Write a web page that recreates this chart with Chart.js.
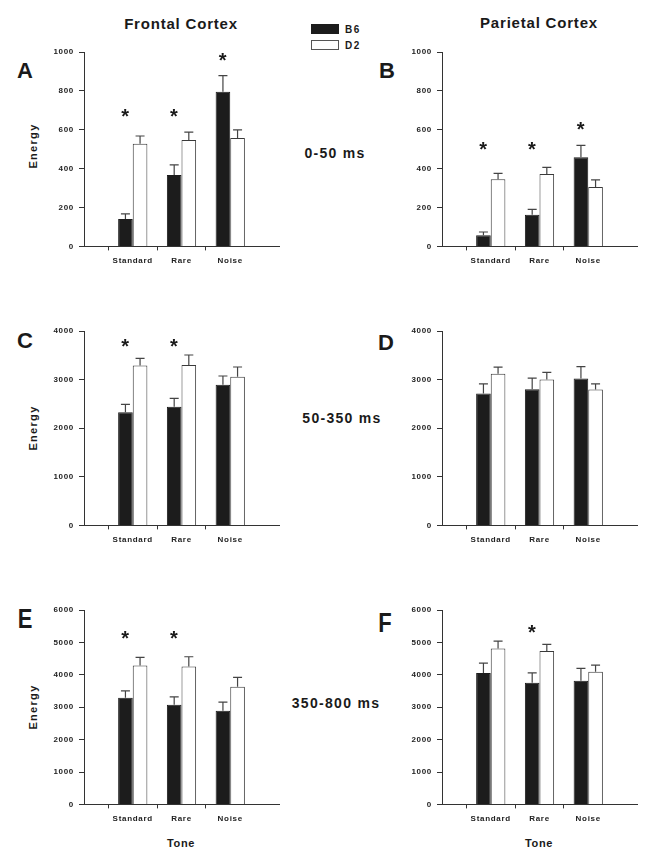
<!DOCTYPE html>
<html>
<head>
<meta charset="utf-8">
<script src="https://cdn.jsdelivr.net/npm/chart.js@4.4.1/dist/chart.umd.min.js"></script>
<style>
body{margin:0;background:#fff;font-family:"Liberation Sans",Arial,sans-serif;}
#fig{position:relative;width:649px;height:855px;overflow:hidden;}
canvas{position:absolute;}
.t{position:absolute;transform:translate(-50%,-50%);line-height:1;font-weight:bold;color:#1a1a1a;white-space:nowrap;}
.title{font-size:15px;letter-spacing:0.8px;}
.time{font-size:14px;letter-spacing:1.3px;}
.letter{font-size:22px;}
.tall{transform:translate(-50%,-50%) scaleY(1.25);}
.energy{font-size:11px;letter-spacing:1.3px;transform:translate(-50%,-50%) rotate(-90deg);}
.tone{font-size:11px;letter-spacing:0.6px;}
.box{position:absolute;width:28px;height:10px;box-sizing:border-box;}
.leg{position:absolute;font-size:10px;font-weight:bold;letter-spacing:1.5px;line-height:1;color:#1a1a1a;transform:translateY(-50%);}
</style>
</head>
<body>
<div id="fig">
  <div class="t title" style="left:181px;top:23px">Frontal Cortex</div>
  <div class="t title" style="left:539px;top:22px">Parietal Cortex</div>

  <div class="box" style="left:311px;top:24px;background:#1c1c1c"></div>
  <div class="box" style="left:311px;top:40px;background:#fff;border:1px solid #555"></div>
  <div class="leg" style="left:345px;top:30px">B6</div>
  <div class="leg" style="left:345px;top:46px">D2</div>

  <div class="t letter" style="left:25px;top:71px">A</div>
  <div class="t letter" style="left:387px;top:71px">B</div>
  <div class="t letter" style="left:25px;top:341px">C</div>
  <div class="t letter" style="left:386px;top:343px">D</div>
  <div class="t letter tall" style="left:25px;top:619px">E</div>
  <div class="t letter tall" style="left:385px;top:623px">F</div>

  <div class="t energy" style="left:33px;top:146px">Energy</div>
  <div class="t energy" style="left:33px;top:428px">Energy</div>
  <div class="t energy" style="left:33px;top:707px">Energy</div>

  <div class="t time" style="left:335px;top:153px">0-50 ms</div>
  <div class="t time" style="left:342px;top:418px">50-350 ms</div>
  <div class="t time" style="left:336px;top:703px">350-800 ms</div>

  <div class="t tone" style="left:181px;top:843px">Tone</div>
  <div class="t tone" style="left:539px;top:843px">Tone</div>
</div>

<script>
const tones = ['Standard', 'Rare', 'Noise'];

// 0-50 ms
const b6A = [141, 367, 796];
const b6ErrA = [26, 52, 82];
const d2A = [528, 547, 557];
const d2ErrA = [40, 41, 42];
const starsA = [686, 686, 975];

const b6B = [57, 163, 458];
const b6ErrB = [17, 27, 62];
const d2B = [345, 372, 306];
const d2ErrB = [31, 34, 36];
const starsB = [515, 515, 617];

// 50-350 ms
const b6C = [2326, 2443, 2896];
const b6ErrC = [165, 171, 178];
const d2C = [3288, 3300, 3061];
const d2ErrC = [150, 206, 198];
const starsC = [3760, 3760, null];

const b6D = [2715, 2804, 3024];
const b6ErrD = [198, 227, 241];
const d2D = [3118, 3004, 2797];
const d2ErrD = [140, 144, 116];
const starsD = [null, null, null];

// 350-800 ms
const b6E = [3288, 3072, 2887];
const b6ErrE = [217, 248, 268];
const d2E = [4289, 4258, 3629];
const d2ErrE = [247, 299, 289];
const starsE = [5216, 5216, null];

const b6F = [4052, 3753, 3814];
const b6ErrF = [309, 309, 382];
const d2F = [4815, 4732, 4093];
const d2ErrF = [226, 206, 206];
const starsF = [null, 5402, null];

const fig = document.getElementById('fig');
const tickFont = { family: '"Liberation Sans", Arial, sans-serif', size: 8, weight: 'bold' };

// wider letters like the original figure
const spacing = {
    id: 'spacing',
    beforeUpdate(chart) { chart.ctx.letterSpacing = '0.7px'; },
    beforeDraw(chart) { chart.ctx.letterSpacing = '0.7px'; }
};

// only the upper half of each error bar is drawn
const errorBars = {
    id: 'errorBars',
    afterDatasetsDraw(chart) {
        const ctx = chart.ctx;
        const y = chart.scales.y;
        chart.data.datasets.forEach((ds, i) => {
            chart.getDatasetMeta(i).data.forEach((bar, j) => {
                const v = ds.data[j], e = ds.errors[j];
                if (v == null || e == null) return;
                const top = y.getPixelForValue(v);
                const end = y.getPixelForValue(v + e);
                ctx.save();
                ctx.strokeStyle = '#444';
                ctx.lineWidth = 1.2;
                ctx.beginPath();
                ctx.moveTo(bar.x, top);
                ctx.lineTo(bar.x, end);
                ctx.moveTo(bar.x - 4.5, end);
                ctx.lineTo(bar.x + 4.5, end);
                ctx.stroke();
                ctx.restore();
            });
        });
    }
};

function starPlugin(stars) {
    return {
        id: 'stars',
        afterDatasetsDraw(chart) {
            const ctx = chart.ctx;
            const y = chart.scales.y;
            const bars = chart.getDatasetMeta(0).data;
            ctx.save();
            ctx.font = 'bold 20px "Liberation Sans", Arial, sans-serif';
            ctx.fillStyle = '#1a1a1a';
            ctx.textAlign = 'center';
            ctx.textBaseline = 'alphabetic';
            const m = ctx.measureText('*');
            stars.forEach((s, j) => {
                if (s == null) return;
                const cy = y.getPixelForValue(s);
                const base = cy + (m.actualBoundingBoxAscent - m.actualBoundingBoxDescent) / 2;
                ctx.fillText('*', bars[j + 1].x, base);
            });
            ctx.restore();
        }
    };
}

function makePanel(left, top, yMax, yStep, b6, b6Err, d2, d2Err, stars) {
    const canvas = document.createElement('canvas');
    canvas.width = 250;
    canvas.height = 230;
    canvas.style.left = left + 'px';
    canvas.style.top = top + 'px';
    fig.appendChild(canvas);

    const pad = a => [null, ...a, null];

    new Chart(canvas, {
        type: 'bar',
        data: {
            labels: ['', ...tones, ''],
            datasets: [
                { label: 'B6', data: pad(b6), errors: pad(b6Err), backgroundColor: '#1c1c1c',
                  borderColor: '#1c1c1c', borderWidth: 1, categoryPercentage: 0.6, barPercentage: 1 },
                { label: 'D2', data: pad(d2), errors: pad(d2Err), backgroundColor: '#fff',
                  borderColor: '#3a3a3a', borderWidth: 1, categoryPercentage: 0.6, barPercentage: 1 }
            ]
        },
        options: {
            responsive: false,
            animation: false,
            events: [],
            layout: { padding: { top: 10, right: 10, left: 0, bottom: 0 } },
            plugins: { legend: { display: false }, tooltip: { enabled: false } },
            scales: {
                x: {
                    offset: false,
                    z: 1,
                    grid: {
                        drawOnChartArea: false,
                        tickLength: 4,
                        color: c => (c.tick && c.tick.label) ? '#333' : 'rgba(0,0,0,0)'
                    },
                    border: { color: '#333', width: 1 },
                    ticks: { font: tickFont, color: '#222', padding: 6, maxRotation: 0, autoSkip: false },
                    afterFit: s => { s.height = 25.6; }
                },
                y: {
                    min: 0,
                    max: yMax,
                    z: 1,
                    grid: { drawOnChartArea: false, tickLength: 5, color: '#333' },
                    border: { color: '#333', width: 1 },
                    ticks: { stepSize: yStep, font: tickFont, color: '#222', padding: 5, callback: v => String(v) },
                    afterFit: s => { s.width = 45; }
                }
            }
        },
        plugins: [spacing, errorBars, starPlugin(stars)]
    });
}

makePanel(39, 42, 1000, 200, b6A, b6ErrA, d2A, d2ErrA, starsA);
makePanel(397, 42, 1000, 200, b6B, b6ErrB, d2B, d2ErrB, starsB);
makePanel(39, 321, 4000, 1000, b6C, b6ErrC, d2C, d2ErrC, starsC);
makePanel(397, 321, 4000, 1000, b6D, b6ErrD, d2D, d2ErrD, starsD);
makePanel(39, 600, 6000, 1000, b6E, b6ErrE, d2E, d2ErrE, starsE);
makePanel(397, 600, 6000, 1000, b6F, b6ErrF, d2F, d2ErrF, starsF);
</script>
</body>
</html>
